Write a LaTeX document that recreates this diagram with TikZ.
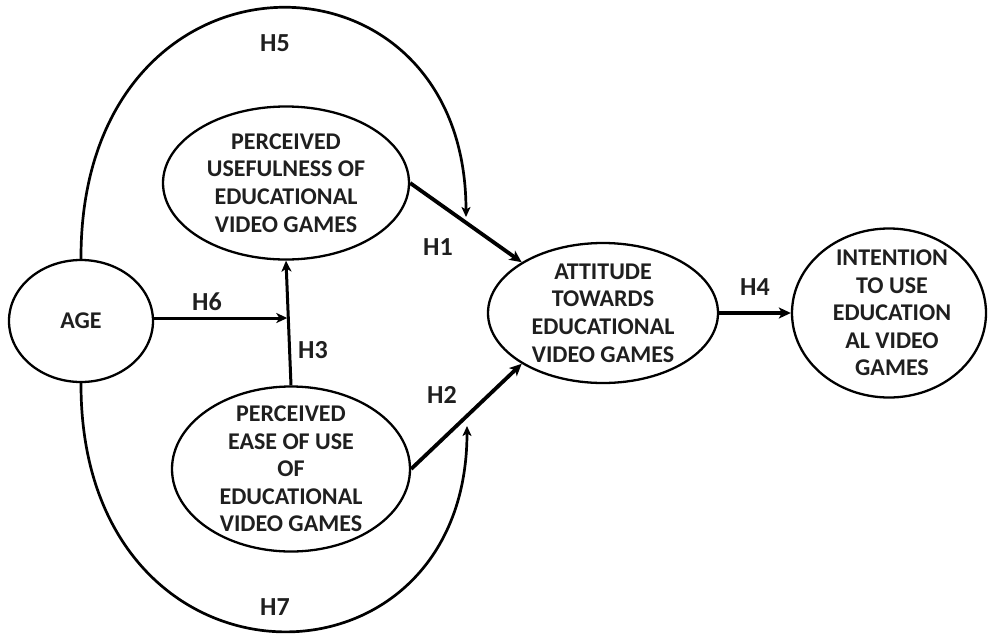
\documentclass[tikz,border=0pt]{standalone}
\usepackage{fontspec}
\setmainfont{Carlito}
\usetikzlibrary{shapes.geometric,arrows.meta,calc}

\begin{document}
\begin{tikzpicture}[x=1pt, y=-1pt,
		construct/.style={draw, ellipse, line width=2.3pt, inner sep=0pt},
		words/.style={align=center, text=black!88, font=\fontsize{24}{27.6}\selectfont\bfseries},
		hyp/.style={text=black!88, font=\fontsize{26}{30}\selectfont\bfseries},
		link/.style={line width=3.8pt, -{Stealth[length=12pt,width=11pt,inset=3pt]}},
		thinlink/.style={line width=3pt, -{Stealth[length=11pt,width=10pt,inset=3pt]}},
		loop/.style={line width=2.7pt, -{Stealth[length=10pt,width=9pt,inset=2.5pt]}}]
	\useasboundingbox (0, 0) rectangle (988, 635);

	\node[construct, minimum width=144, minimum height=122] (age) at (81, 321) {};
	\node[construct, minimum width=246, minimum height=153] (pu) at (286, 183) {};
	\node[construct, minimum width=238, minimum height=165] (peou) at (291, 469) {};
	\node[construct, minimum width=230, minimum height=140] (att) at (603, 313) {};
	\node[construct, minimum width=194, minimum height=169] (int) at (889, 313) {};

	\node[words] (age-t) at (age) {AGE};
	\node[words] (pu-t) at (pu) {PERCEIVED\\USEFULNESS OF\\EDUCATIONAL\\VIDEO GAMES};
	\node[words] (peou-t) at (peou) {PERCEIVED\\EASE OF USE\\OF\\EDUCATIONAL\\VIDEO GAMES};
	\node[words] (att-t) at (att) {ATTITUDE\\TOWARDS\\EDUCATIONAL\\VIDEO GAMES};
	\node[words] (int-t) at (892, 313) {INTENTION\\TO USE\\EDUCATION\\AL VIDEO\\GAMES};

	\draw[link] (pu.east) -- (att.148);
	\draw[link] (peou.east) -- (att.212);
	\draw[link] (att.east) -- (int.west);
	\draw[thinlink] (peou.north) -- (pu.south);
	\coordinate (meet) at ($(peou.north)!0.54!(pu.south)$);
	\draw[thinlink, shorten >=1pt] (age.east |- meet) -- (meet);

	\coordinate (h5end) at (466, 217);
	\coordinate (h7end) at (467, 426);
	\draw[loop] (age.north) .. controls (80, -68) and (466, -68) .. (h5end);
	\draw[loop] (age.south) .. controls (80, 706) and (467, 706) .. (h7end);

	\node[hyp] (h1) at (438, 247) {H1};
	\node[hyp] (h2) at (442, 395) {H2};
	\node[hyp] (h3) at (313, 350) {H3};
	\node[hyp] (h4) at (755, 287) {H4};
	\node[hyp] (h5) at (275, 43) {H5};
	\node[hyp] (h6) at (207, 302) {H6};
	\node[hyp] (h7) at (275, 607) {H7};
\end{tikzpicture}
\end{document}
